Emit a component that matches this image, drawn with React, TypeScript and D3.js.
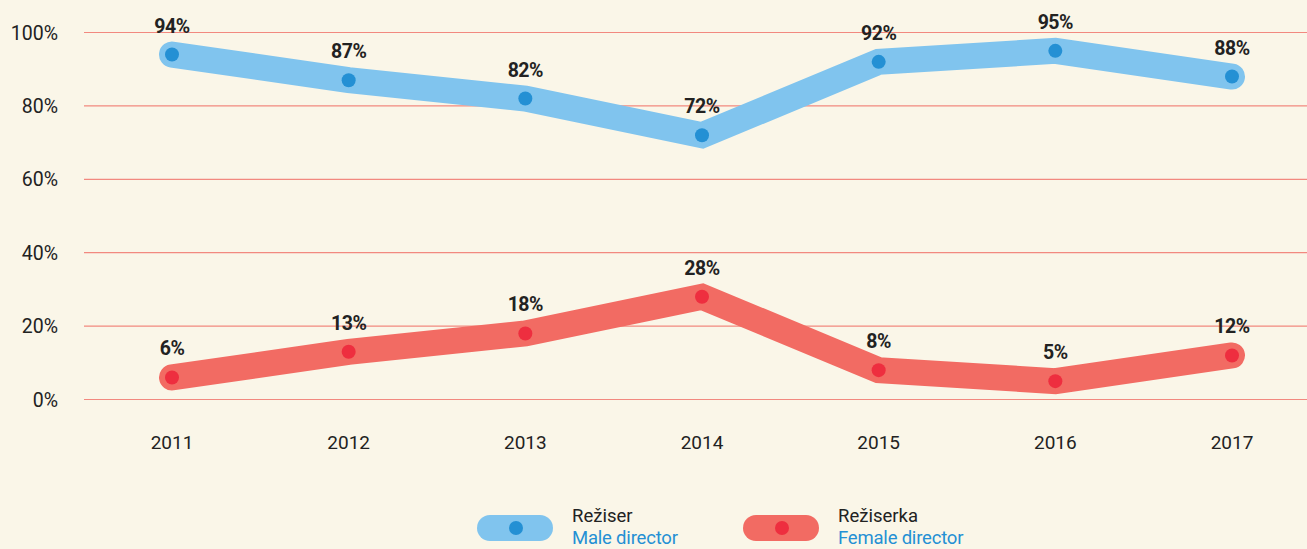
import * as d3 from "d3"

const years = ["2011", "2012", "2013", "2014", "2015", "2016", "2017"]
const maleValues = [94, 87, 82, 72, 92, 95, 88]
const femaleValues = [6, 13, 18, 28, 8, 5, 12]
const yTicks = [0, 20, 40, 60, 80, 100]

const W = 1307
const H = 549
const FONT = "Roboto, 'Open Sans', sans-serif"

const series = [
  { name: "Režiser", en: "Male director", values: maleValues, line: "#80c4ee", dot: "#2490d4" },
  { name: "Režiserka", en: "Female director", values: femaleValues, line: "#f26b63", dot: "#ee2e3f" },
]

export default function App() {
  const x = d3.scalePoint().domain(years).range([172, 1232])
  const y = d3.scaleLinear().domain([0, 100]).range([399.5, 32.5])

  const line = d3
    .line<number>()
    .x((_, i) => x(years[i]) || 0)
    .y((d) => y(d))

  return (
    <div style={{ position: "fixed", left: 0, top: 0 }}>
      <svg width={W} height={H} style={{ display: "block", background: "#faf6e8" }}>
        {yTicks.map((t) => (
          <g key={t}>
            <line x1={84} x2={W} y1={y(t)} y2={y(t)} stroke="#f2897f" strokeWidth={1.2} />
            <text x={58} y={y(t) + 7} textAnchor="end" fontFamily={FONT} fontSize={19.5} fill="#222">
              {t}%
            </text>
          </g>
        ))}
        {years.map((yr) => (
          <text key={yr} x={x(yr)} y={449} textAnchor="middle" fontFamily={FONT} fontSize={19} fill="#222">
            {yr}
          </text>
        ))}
        {series.map((s) => (
          <g key={s.name}>
            <path
              d={line(s.values) || ""}
              fill="none"
              stroke={s.line}
              strokeWidth={26}
              strokeLinecap="round"
              strokeLinejoin="miter"
            />
            {s.values.map((v, i) => (
              <g key={i}>
                <circle cx={x(years[i])} cy={y(v)} r={7} fill={s.dot} />
                <text
                  x={x(years[i])}
                  y={y(v) - 22}
                  textAnchor="middle"
                  fontFamily={FONT}
                  fontWeight="bold"
                  fontSize={19.5}
                  letterSpacing={-0.5}
                  fill="#222"
                >
                  {v}%
                </text>
              </g>
            ))}
          </g>
        ))}
        {series.map((s, i) => {
          const lx = 477 + i * 266
          return (
            <g key={"lg" + s.name}>
              <rect x={lx} y={515} width={76} height={26} rx={13} fill={s.line} />
              <circle cx={lx + 39} cy={528} r={7} fill={s.dot} />
              <text x={lx + 95} y={522} fontFamily={FONT} fontSize={18.5} fill="#222">
                {s.name}
              </text>
              <text x={lx + 95} y={544} fontFamily={FONT} fontSize={18.5} letterSpacing={-0.2} fill="#2490d4">
                {s.en}
              </text>
            </g>
          )
        })}
      </svg>
    </div>
  )
}
